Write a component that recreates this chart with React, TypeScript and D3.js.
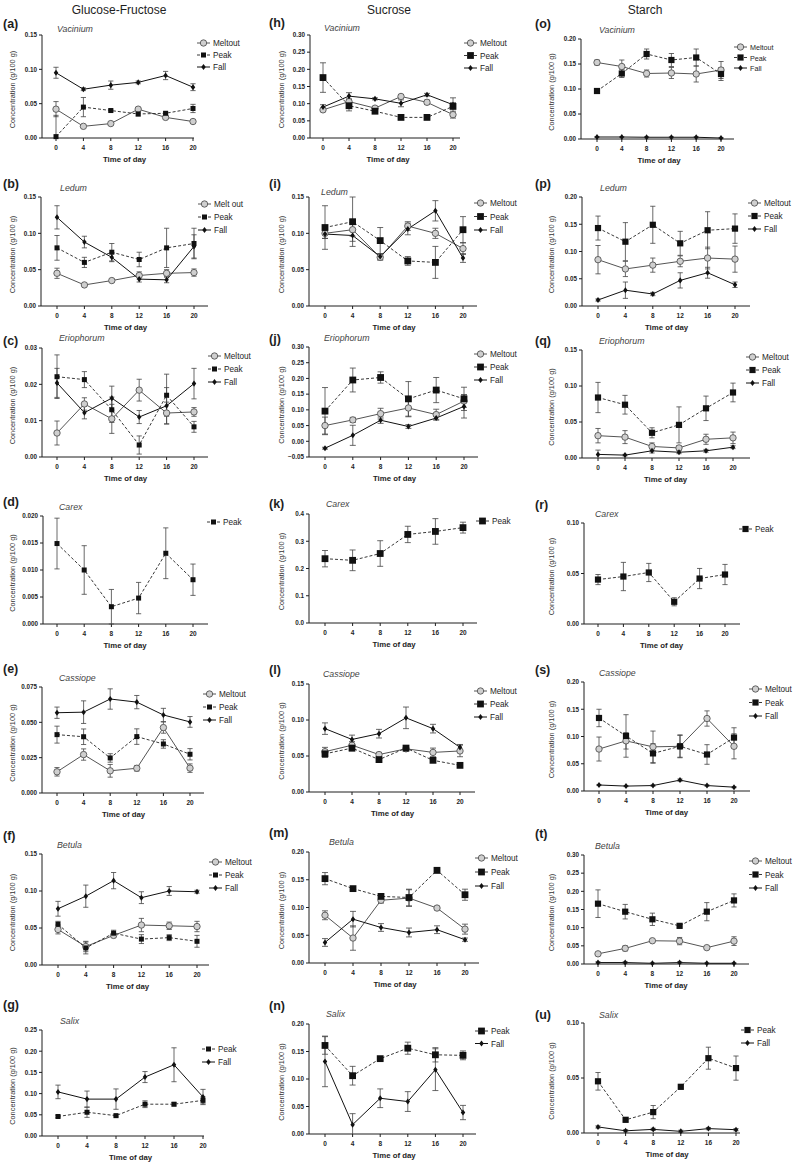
import React from 'react';
import * as d3 from 'd3';

const TIMES = [0, 4, 8, 12, 16, 20];
const COLUMN_TITLES = ['Glucose-Fructose', 'Sucrose', 'Starch'];
const Y_LABEL = 'Concentration (g/100 g)';
const X_LABEL = 'Time of day';

// (a) Glucose-Fructose — Vacinium
const aM = [0.042, 0.017, 0.021, 0.042, 0.030, 0.024];
const aMe = [0.011, 0.001, 0.001, 0.002, 0.002, 0.001];
const aP = [0.002, 0.045, 0.040, 0.035, 0.036, 0.043];
const aPe = [0.031, 0.014, 0.002, 0.003, 0.002, 0.006];
const aF = [0.095, 0.071, 0.077, 0.081, 0.091, 0.074];
const aFe = [0.008, 0.002, 0.006, 0.002, 0.006, 0.005];
// (b) Ledum
const bM = [0.045, 0.029, 0.035, 0.042, 0.045, 0.046];
const bMe = [0.007, 0.002, 0.002, 0.005, 0.005, 0.005];
const bP = [0.080, 0.060, 0.074, 0.064, 0.080, 0.086];
const bPe = [0.017, 0.007, 0.012, 0.010, 0.027, 0.021];
const bF = [0.122, 0.088, 0.067, 0.037, 0.036, 0.082];
const bFe = [0.016, 0.008, 0.006, 0.004, 0.004, 0.016];
// (c) Eriophorum
const cM = [0.0066, 0.0146, 0.0105, 0.0184, 0.0121, 0.0124];
const cMe = [0.0033, 0.0017, 0.004, 0.003, 0.003, 0.0012];
const cP = [0.0221, 0.0213, 0.013, 0.0033, 0.017, 0.0083];
const cPe = [0.006, 0.0022, 0.0035, 0.0025, 0.0058, 0.0015];
const cF = [0.0204, 0.0122, 0.0162, 0.011, 0.0141, 0.0202];
const cFe = [0.004, 0.0017, 0.0033, 0.0018, 0.005, 0.0042];
// (d) Carex
const dP = [0.0149, 0.01, 0.0032, 0.0048, 0.0131, 0.0082];
const dPe = [0.0047, 0.0045, 0.0032, 0.0029, 0.0047, 0.0029];
// (e) Cassiope
const eM = [0.015, 0.0272, 0.0157, 0.0175, 0.0463, 0.0176];
const eMe = [0.003, 0.004, 0.0045, 0.002, 0.004, 0.003];
const eP = [0.0413, 0.0398, 0.0248, 0.0399, 0.0347, 0.0274];
const ePe = [0.006, 0.0055, 0.003, 0.0055, 0.003, 0.004];
const eF = [0.0568, 0.0572, 0.0665, 0.0643, 0.0552, 0.0503];
const eFe = [0.004, 0.008, 0.0072, 0.0047, 0.0047, 0.0038];
// (f) Betula
const fM = [0.048, 0.025, 0.040, 0.054, 0.053, 0.052];
const fMe = [0.006, 0.007, 0.003, 0.009, 0.005, 0.007];
const fP = [0.055, 0.023, 0.043, 0.035, 0.037, 0.032];
const fPe = [0.004, 0.008, 0.004, 0.006, 0.004, 0.008];
const fF = [0.076, 0.093, 0.114, 0.091, 0.100, 0.099];
const fFe = [0.010, 0.015, 0.011, 0.008, 0.006, 0.002];
// (g) Salix
const gP = [0.046, 0.056, 0.048, 0.075, 0.075, 0.084];
const gPe = [0.003, 0.012, 0.003, 0.008, 0.004, 0.008];
const gF = [0.104, 0.087, 0.087, 0.139, 0.168, 0.092];
const gFe = [0.016, 0.019, 0.024, 0.013, 0.040, 0.018];

// (h) Sucrose — Vacinium
const hM = [0.082, 0.106, 0.087, 0.121, 0.104, 0.068];
const hMe = [0.005, 0.008, 0.004, 0.004, 0.006, 0.010];
const hP = [0.176, 0.094, 0.078, 0.060, 0.060, 0.092];
const hPe = [0.043, 0.015, 0.004, 0.005, 0.003, 0.025];
const hF = [0.090, 0.122, 0.114, 0.101, 0.126, 0.097];
const hFe = [0.007, 0.010, 0.003, 0.010, 0.004, 0.006];
// (i) Ledum
const iM = [0.100, 0.105, 0.067, 0.110, 0.100, 0.079];
const iMe = [0.007, 0.009, 0.004, 0.006, 0.007, 0.008];
const iP = [0.108, 0.116, 0.090, 0.062, 0.060, 0.105];
const iPe = [0.030, 0.034, 0.018, 0.006, 0.022, 0.018];
const iF = [0.099, 0.097, 0.068, 0.106, 0.131, 0.066];
const iFe = [0.006, 0.008, 0.004, 0.008, 0.014, 0.006];
// (j) Eriophorum
const jM = [0.050, 0.068, 0.088, 0.106, 0.085, 0.128];
const jMe = [0.027, 0.008, 0.017, 0.028, 0.017, 0.020];
const jP = [0.096, 0.195, 0.203, 0.135, 0.163, 0.135];
const jPe = [0.075, 0.038, 0.018, 0.055, 0.040, 0.037];
const jF = [-0.022, 0.019, 0.067, 0.047, 0.074, 0.111];
const jFe = [0.003, 0.032, 0.010, 0.006, 0.006, 0.037];
// (k) Carex
const kP = [0.236, 0.230, 0.255, 0.325, 0.336, 0.350];
const kPe = [0.030, 0.038, 0.047, 0.030, 0.047, 0.020];
// (l) Cassiope
const lM = [0.056, 0.065, 0.052, 0.060, 0.055, 0.057];
const lMe = [0.006, 0.005, 0.003, 0.003, 0.006, 0.008];
const lP = [0.053, 0.061, 0.045, 0.061, 0.044, 0.037];
const lPe = [0.005, 0.004, 0.002, 0.003, 0.003, 0.002];
const lF = [0.088, 0.073, 0.081, 0.103, 0.088, 0.062];
const lFe = [0.008, 0.006, 0.006, 0.015, 0.006, 0.004];
// (m) Betula
const mM = [0.086, 0.045, 0.113, 0.117, 0.099, 0.061];
const mMe = [0.008, 0.022, 0.005, 0.015, 0.003, 0.009];
const mP = [0.152, 0.134, 0.120, 0.118, 0.167, 0.123];
const mPe = [0.011, 0.003, 0.005, 0.015, 0.005, 0.010];
const mF = [0.037, 0.079, 0.064, 0.055, 0.060, 0.042];
const mFe = [0.007, 0.014, 0.007, 0.008, 0.007, 0.003];
// (n) Salix
const nP = [0.161, 0.106, 0.137, 0.156, 0.144, 0.143];
const nPe = [0.016, 0.017, 0.003, 0.011, 0.013, 0.008];
const nF = [0.132, 0.017, 0.065, 0.059, 0.117, 0.039];
const nFe = [0.046, 0.020, 0.017, 0.018, 0.038, 0.013];

// (o) Starch — Vacinium
const oM = [0.153, 0.145, 0.131, 0.132, 0.130, 0.138];
const oMe = [0.005, 0.013, 0.007, 0.011, 0.016, 0.017];
const oP = [0.096, 0.131, 0.170, 0.158, 0.163, 0.130];
const oPe = [0.004, 0.008, 0.010, 0.013, 0.017, 0.013];
const oF = [0.004, 0.004, 0.0035, 0.0035, 0.0035, 0.002];
const oFe = [0.001, 0.001, 0.001, 0.001, 0.001, 0.001];
// (p) Ledum
const pM = [0.085, 0.068, 0.075, 0.082, 0.088, 0.086];
const pMe = [0.026, 0.014, 0.013, 0.010, 0.020, 0.024];
const pP = [0.143, 0.118, 0.149, 0.115, 0.139, 0.142];
const pPe = [0.022, 0.035, 0.034, 0.022, 0.034, 0.027];
const pF = [0.011, 0.029, 0.022, 0.047, 0.061, 0.039];
const pFe = [0.002, 0.015, 0.003, 0.014, 0.010, 0.005];
// (q) Eriophorum
const qM = [0.031, 0.029, 0.016, 0.014, 0.026, 0.028];
const qMe = [0.010, 0.009, 0.005, 0.003, 0.007, 0.008];
const qP = [0.084, 0.074, 0.035, 0.046, 0.069, 0.091];
const qPe = [0.021, 0.013, 0.007, 0.025, 0.017, 0.013];
const qF = [0.005, 0.004, 0.010, 0.008, 0.010, 0.015];
const qFe = [0.006, 0.001, 0.003, 0.002, 0.002, 0.002];
// (r) Carex
const rP = [0.044, 0.047, 0.051, 0.022, 0.045, 0.049];
const rPe = [0.005, 0.014, 0.009, 0.004, 0.010, 0.010];
// (s) Cassiope
const sM = [0.077, 0.092, 0.081, 0.082, 0.133, 0.082];
const sMe = [0.022, 0.015, 0.029, 0.020, 0.014, 0.023];
const sP = [0.134, 0.101, 0.069, 0.082, 0.067, 0.098];
const sPe = [0.016, 0.039, 0.018, 0.021, 0.018, 0.018];
const sF = [0.011, 0.009, 0.010, 0.020, 0.010, 0.007];
const sFe = [0.001, 0.001, 0.001, 0.002, 0.001, 0.001];
// (t) Betula
const tM = [0.028, 0.043, 0.064, 0.063, 0.045, 0.063];
const tMe = [0.003, 0.007, 0.002, 0.010, 0.002, 0.012];
const tP = [0.166, 0.144, 0.123, 0.105, 0.144, 0.175];
const tPe = [0.038, 0.020, 0.017, 0.003, 0.025, 0.018];
const tF = [0.004, 0.004, 0.002, 0.004, 0.002, 0.002];
const tFe = [0.002, 0.002, 0.001, 0.002, 0.001, 0.001];
// (u) Salix
const uP = [0.047, 0.012, 0.019, 0.042, 0.068, 0.059];
const uPe = [0.008, 0.002, 0.006, 0.002, 0.010, 0.011];
const uF = [0.0055, 0.002, 0.0033, 0.0015, 0.004, 0.003];
const uFe = [0.001, 0.001, 0.001, 0.001, 0.001, 0.001];

type Kind = 'M' | 'P' | 'F';
type Series = { kind: Kind; label: string; v: number[]; e: number[] };
const M = (v: number[], e: number[], label = 'Meltout'): Series => ({ kind: 'M', label, v, e });
const P = (v: number[], e: number[]): Series => ({ kind: 'P', label: 'Peak', v, e });
const F = (v: number[], e: number[]): Series => ({ kind: 'F', label: 'Fall', v, e });

type PanelCfg = {
  letter: string; species: string; col: number;
  yMin: number; yMax: number; yStep: number; fmt: string;
  top: number; bottom: number; axL: number; axR: number; t0: number; t20: number;
  letterY: number; spX: number; spY: number; legX: number; legY: number; legStep: number;
  series: Series[];
};

const PANELS: PanelCfg[] = [
  { letter: '(a)', species: 'Vacinium', col: 0, yMin: 0, yMax: 0.15, yStep: 0.05, fmt: '.2f', top: 35, bottom: 138, axL: 42, axR: 194, t0: 56, t20: 193, letterY: 23, spX: 57, spY: 29, legX: 197, legY: 43, legStep: 12, series: [M(aM, aMe), P(aP, aPe), F(aF, aFe)] },
  { letter: '(b)', species: 'Ledum', col: 0, yMin: 0, yMax: 0.15, yStep: 0.05, fmt: '.2f', top: 197, bottom: 306, axL: 41, axR: 208, t0: 57, t20: 194, letterY: 183, spX: 60, spY: 188, legX: 198, legY: 204, legStep: 13, series: [M(bM, bMe, 'Melt out'), P(bP, bPe), F(bF, bFe)] },
  { letter: '(c)', species: 'Eriophorum', col: 0, yMin: 0, yMax: 0.03, yStep: 0.01, fmt: '.2f', top: 348, bottom: 457, axL: 42, axR: 208, t0: 57, t20: 194, letterY: 340, spX: 59, spY: 338, legX: 208, legY: 356, legStep: 13, series: [M(cM, cMe), P(cP, cPe), F(cF, cFe)] },
  { letter: '(d)', species: 'Carex', col: 0, yMin: 0, yMax: 0.02, yStep: 0.005, fmt: '.3f', top: 516, bottom: 624, axL: 43, axR: 208, t0: 57, t20: 193, letterY: 501, spX: 59, spY: 507, legX: 207, legY: 522, legStep: 13, series: [P(dP, dPe)] },
  { letter: '(e)', species: 'Cassiope', col: 0, yMin: 0, yMax: 0.075, yStep: 0.025, fmt: '.3f', top: 687, bottom: 793, axL: 42, axR: 204, t0: 57, t20: 190, letterY: 668, spX: 59, spY: 678, legX: 203, legY: 694, legStep: 13, series: [M(eM, eMe), P(eP, ePe), F(eF, eFe)] },
  { letter: '(f)', species: 'Betula', col: 0, yMin: 0, yMax: 0.15, yStep: 0.05, fmt: '.2f', top: 854, bottom: 965, axL: 42, axR: 209, t0: 58, t20: 197, letterY: 835, spX: 57, spY: 845, legX: 209, legY: 862, legStep: 13, series: [M(fM, fMe), P(fP, fPe), F(fF, fFe)] },
  { letter: '(g)', species: 'Salix', col: 0, yMin: 0, yMax: 0.25, yStep: 0.05, fmt: '.2f', top: 1030, bottom: 1136, axL: 42, axR: 204, t0: 58, t20: 203, letterY: 1004, spX: 60, spY: 1021, legX: 202, legY: 1049, legStep: 13, series: [P(gP, gPe), F(gF, gFe)] },

  { letter: '(h)', species: 'Vacinium', col: 1, yMin: 0, yMax: 0.3, yStep: 0.05, fmt: '.2f', top: 35, bottom: 138, axL: 310, axR: 460, t0: 323, t20: 453, letterY: 22, spX: 324, spY: 28, legX: 464, legY: 43, legStep: 12.5, series: [M(hM, hMe), P(hP, hPe), F(hF, hFe)] },
  { letter: '(i)', species: 'Ledum', col: 1, yMin: 0, yMax: 0.15, yStep: 0.05, fmt: '.2f', top: 197, bottom: 306, axL: 309, axR: 477, t0: 325, t20: 463, letterY: 183, spX: 321, spY: 192, legX: 474, legY: 203, legStep: 13.5, series: [M(iM, iMe), P(iP, iPe), F(iF, iFe)] },
  { letter: '(j)', species: 'Eriophorum', col: 1, yMin: -0.05, yMax: 0.3, yStep: 0.05, fmt: '.2f', top: 347, bottom: 457, axL: 309, axR: 478, t0: 325, t20: 464, letterY: 338, spX: 324, spY: 338, legX: 474, legY: 354, legStep: 13, series: [M(jM, jMe), P(jP, jPe), F(jF, jFe)] },
  { letter: '(k)', species: 'Carex', col: 1, yMin: 0, yMax: 0.4, yStep: 0.1, fmt: '.1f', top: 514, bottom: 623, axL: 309, axR: 477, t0: 325, t20: 463, letterY: 503, spX: 326, spY: 504, legX: 476, legY: 521, legStep: 13, series: [P(kP, kPe)] },
  { letter: '(l)', species: 'Cassiope', col: 1, yMin: 0, yMax: 0.15, yStep: 0.05, fmt: '.2f', top: 684, bottom: 792, axL: 309, axR: 475, t0: 325, t20: 460, letterY: 669, spX: 323, spY: 674, legX: 474, legY: 691, legStep: 13, series: [M(lM, lMe), P(lP, lPe), F(lF, lFe)] },
  { letter: '(m)', species: 'Betula', col: 1, yMin: 0, yMax: 0.2, yStep: 0.05, fmt: '.2f', top: 852, bottom: 963, axL: 309, axR: 479, t0: 325, t20: 465, letterY: 832, spX: 329, spY: 842, legX: 475, legY: 858, legStep: 14, series: [M(mM, mMe), P(mP, mPe), F(mF, mFe)] },
  { letter: '(n)', species: 'Salix', col: 1, yMin: 0, yMax: 0.2, yStep: 0.05, fmt: '.2f', top: 1024, bottom: 1134, axL: 309, axR: 476, t0: 325, t20: 463, letterY: 1005, spX: 326, spY: 1014, legX: 475, legY: 1031, legStep: 12.5, series: [P(nP, nPe), F(nF, nFe)] },

  { letter: '(o)', species: 'Vacinium', col: 2, yMin: 0, yMax: 0.2, yStep: 0.05, fmt: '.2f', top: 39, bottom: 139, axL: 581, axR: 734, t0: 597, t20: 721, letterY: 23, spX: 599, spY: 30, legX: 734, legY: 47, legStep: 10.5, series: [M(oM, oMe), P(oP, oPe), F(oF, oFe)] },
  { letter: '(p)', species: 'Ledum', col: 2, yMin: 0, yMax: 0.2, yStep: 0.05, fmt: '.2f', top: 197, bottom: 306, axL: 582, axR: 750, t0: 598, t20: 735, letterY: 183, spX: 600, spY: 188, legX: 748, legY: 203, legStep: 13, series: [M(pM, pMe), P(pP, pPe), F(pF, pFe)] },
  { letter: '(q)', species: 'Eriophorum', col: 2, yMin: 0, yMax: 0.15, yStep: 0.05, fmt: '.2f', top: 350, bottom: 458, axL: 582, axR: 750, t0: 598, t20: 733, letterY: 340, spX: 599, spY: 341, legX: 746, legY: 357, legStep: 13, series: [M(qM, qMe), P(qP, qPe), F(qF, qFe)] },
  { letter: '(r)', species: 'Carex', col: 2, yMin: 0, yMax: 0.1, yStep: 0.05, fmt: '.2f', top: 523, bottom: 624, axL: 584, axR: 740, t0: 598, t20: 725, letterY: 504, spX: 595, spY: 514, legX: 739, legY: 529, legStep: 13, series: [P(rP, rPe)] },
  { letter: '(s)', species: 'Cassiope', col: 2, yMin: 0, yMax: 0.2, yStep: 0.05, fmt: '.2f', top: 682, bottom: 791, axL: 584, axR: 750, t0: 599, t20: 734, letterY: 669, spX: 599, spY: 673, legX: 749, legY: 689, legStep: 13.5, series: [M(sM, sMe), P(sP, sPe), F(sF, sFe)] },
  { letter: '(t)', species: 'Betula', col: 2, yMin: 0, yMax: 0.3, yStep: 0.05, fmt: '.2f', top: 855, bottom: 964, axL: 584, axR: 749, t0: 598, t20: 734, letterY: 833, spX: 595, spY: 846, legX: 749, legY: 861, legStep: 13.5, series: [M(tM, tMe), P(tP, tPe), F(tF, tFe)] },
  { letter: '(u)', species: 'Salix', col: 2, yMin: 0, yMax: 0.1, yStep: 0.05, fmt: '.2f', top: 1023, bottom: 1133, axL: 584, axR: 740, t0: 598, t20: 736, letterY: 1014, spX: 599, spY: 1015, legX: 741, legY: 1030, legStep: 13, series: [P(uP, uPe), F(uF, uFe)] },
];

const COL_X = [0, 266, 532];
const COL_TITLE_X = [119, 389, 645];
const COL_YLABEL_X = [12, 281, 551];
const SQUARE = [5, 6.8, 6.2];
const FONT = '"Liberation Sans", Arial, Helvetica, sans-serif';
const INK = '#1e1e1e';

function Marker({ kind, x, y, col }: { kind: Kind; x: number; y: number; col: number }) {
  if (kind === 'M') return <circle cx={x} cy={y} r={3.2} fill="#cfcfcf" stroke="#555" strokeWidth={0.9} />;
  if (kind === 'P') {
    const s = SQUARE[col];
    return <rect x={x - s / 2} y={y - s / 2} width={s} height={s} fill="#111" />;
  }
  const d = d3.symbol(d3.symbolDiamond, 13)() as string;
  return <path d={d} transform={`translate(${x},${y}) scale(1.15,0.9)`} fill="#111" />;
}

const lineStyle = (k: Kind) =>
  k === 'M'
    ? { stroke: '#555', strokeWidth: 1, strokeDasharray: undefined as string | undefined }
    : k === 'P'
    ? { stroke: '#222', strokeWidth: 0.9, strokeDasharray: '3,2' }
    : { stroke: '#111', strokeWidth: 1, strokeDasharray: undefined as string | undefined };

function Panel({ p }: { p: PanelCfg }) {
  const x = d3.scaleLinear().domain([0, 20]).range([p.t0, p.t20]);
  const y = d3.scaleLinear().domain([p.yMin, p.yMax]).range([p.bottom, p.top]);
  const nTicks = Math.round((p.yMax - p.yMin) / p.yStep);
  const yTicks = d3.range(nTicks + 1).map((i) => p.yMin + i * p.yStep);
  const fmt = d3.format(p.fmt);
  const line = d3
    .line<number>()
    .x((_, i) => x(TIMES[i]))
    .y((d) => y(d));
  const cap = p.col === 1 ? 3 : 2.6;
  const midY = (p.top + p.bottom) / 2;
  const xMid = (p.t0 + p.t20) / 2;
  return (
    <g>
      <text x={COL_X[p.col] + 3} y={p.letterY + 4.5} fontSize={12.5} fontWeight="bold" fill={INK}>{p.letter}</text>
      <text x={p.spX} y={p.spY + 3} fontSize={8.8} fontStyle="italic" fill="#444">{p.species}</text>
      <text transform={`translate(${COL_YLABEL_X[p.col] + 2.5},${midY + 3}) rotate(-90)`} textAnchor="middle" fontSize={7.4} fill="#333">{Y_LABEL}</text>
      {/* axes */}
      <line x1={p.axL} x2={p.axL} y1={p.top} y2={p.bottom} stroke={INK} strokeWidth={1} />
      <line x1={p.axL} x2={p.axR} y1={p.bottom} y2={p.bottom} stroke={INK} strokeWidth={1} />
      {yTicks.map((t, i) => (
        <g key={'y' + i}>
          <line x1={p.axL - 3} x2={p.axL} y1={y(t)} y2={y(t)} stroke={INK} strokeWidth={1} />
          <text x={p.axL - 5} y={y(t) + 2.3} textAnchor="end" fontSize={6.3} fontWeight="bold" fill={INK}>{fmt(t)}</text>
        </g>
      ))}
      {TIMES.map((t) => (
        <g key={'x' + t}>
          <line x1={x(t)} x2={x(t)} y1={p.bottom} y2={p.bottom + 3} stroke={INK} strokeWidth={1} />
          <text x={x(t)} y={p.bottom + 12} textAnchor="middle" fontSize={6.5} fontWeight="bold" fill={INK}>{t}</text>
        </g>
      ))}
      <text x={xMid} y={p.bottom + 24} textAnchor="middle" fontSize={7.8} fontWeight="bold" fill={INK}>{X_LABEL}</text>
      {/* lines */}
      {p.series.map((s) => {
        const st = lineStyle(s.kind);
        return <path key={'l' + s.kind} d={line(s.v) as string} fill="none" {...st} />;
      })}
      {/* error bars */}
      {p.series.map((s) =>
        s.v.map((v, i) => {
          const hi = v + s.e[i];
          const loRaw = v - s.e[i];
          const lo = Math.max(loRaw, p.yMin);
          const cx = x(TIMES[i]);
          return (
            <g key={'e' + s.kind + i} stroke="#444" strokeWidth={0.8}>
              <line x1={cx} x2={cx} y1={y(hi)} y2={y(lo)} />
              <line x1={cx - cap} x2={cx + cap} y1={y(hi)} y2={y(hi)} />
              {loRaw >= p.yMin && <line x1={cx - cap} x2={cx + cap} y1={y(lo)} y2={y(lo)} />}
            </g>
          );
        })
      )}
      {/* markers */}
      {p.series.map((s) =>
        s.v.map((v, i) => <Marker key={'m' + s.kind + i} kind={s.kind} x={x(TIMES[i])} y={y(v)} col={p.col} />)
      )}
      {/* legend */}
      {p.series.map((s, i) => {
        const ly = p.legY + i * p.legStep;
        const st = lineStyle(s.kind);
        return (
          <g key={'lg' + s.kind}>
            <line x1={p.legX} x2={p.legX + 13} y1={ly} y2={ly} {...st} />
            <Marker kind={s.kind} x={p.legX + 6.5} y={ly} col={p.col} />
            <text x={p.legX + 16} y={ly + 3} fontSize={p.col === 2 && p.letter === '(o)' ? 7.2 : 8.2} fill={INK}>{s.label}</text>
          </g>
        );
      })}
    </g>
  );
}

export default function App() {
  return (
    <svg
      width={798}
      height={1163}
      viewBox="0 0 798 1163"
      style={{ position: 'absolute', left: 0, top: 0, background: '#fff' }}
      fontFamily={FONT}
    >
      <rect width={798} height={1163} fill="#fff" />
      {COLUMN_TITLES.map((t, i) => (
        <text key={t} x={COL_TITLE_X[i]} y={14} textAnchor="middle" fontSize={12} fill={INK}>{t}</text>
      ))}
      {PANELS.map((p) => (
        <Panel key={p.letter} p={p} />
      ))}
    </svg>
  );
}
